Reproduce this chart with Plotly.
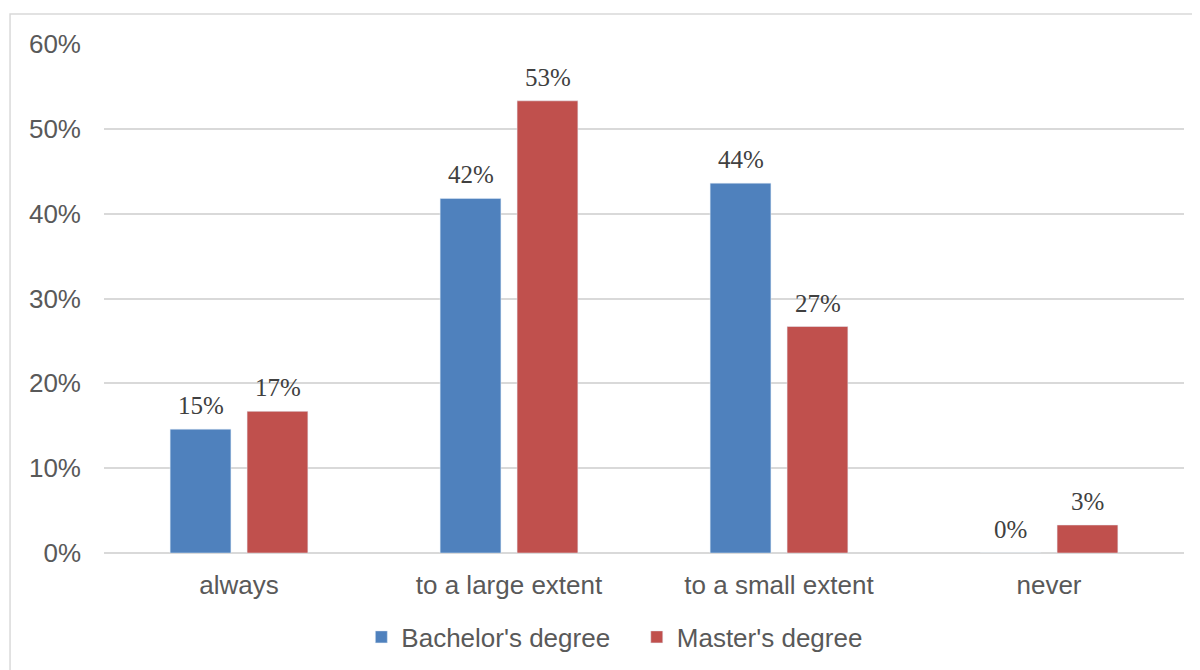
import plotly.graph_objects as go

categories = ["always", "to a large extent", "to a small extent", "never"]
bachelor = [0.146, 0.418, 0.436, 0.0]
master = [0.167, 0.533, 0.267, 0.033]
series_names = ["Bachelor's degree\u00a0\u00a0\u00a0", "Master's degree"]
colors = ["#4f81bd", "#c0504d"]
label_shift = [-38.5, 38.5]

fig = go.Figure()
annotations = []
for name, vals, col, dx in zip(series_names, [bachelor, master], colors, label_shift):
    fig.add_trace(go.Bar(x=categories, y=vals, name=name, marker_color=col))
    for c, v in zip(categories, vals):
        annotations.append(dict(
            x=c, y=v, xref="x", yref="y", text=f"{round(v * 100):.0f}%", showarrow=False,
            xshift=dx, yshift=8, yanchor="bottom", xanchor="center",
            font=dict(family="Liberation Serif, DejaVu Serif, serif", size=25, color="#404040"),
        ))

fig.update_layout(
    width=1200, height=670,
    margin=dict(l=96, r=24, t=36, b=125, autoexpand=False),
    paper_bgcolor="white", plot_bgcolor="white",
    barmode="group", bargap=0.43, bargroupgap=0.21,
    font=dict(family="Liberation Sans, Arial, sans-serif", size=26, color="#595959"),
    yaxis=dict(range=[0, 0.6], dtick=0.1, tickformat=".0%", showgrid=True, automargin=False,
               gridcolor="#d9d9d9", gridwidth=1.5, zeroline=True, zerolinecolor="#d9d9d9",
               zerolinewidth=2, ticks="", showline=False, ticklabelstandoff=22),
    xaxis=dict(showgrid=False, ticks="", showline=False, automargin=False, ticklabelstandoff=14),
    legend=dict(orientation="h", x=0.473, xanchor="center", y=-0.165, yanchor="middle",
                font=dict(size=26, color="#595959"), itemwidth=30, traceorder="normal"),
    showlegend=True,
    annotations=annotations,
    shapes=[dict(type="rect", xref="paper", yref="paper", x0=-0.087, x1=1.05, y0=-0.35, y1=1.059,
                 line=dict(color="#d9d9d9", width=1.5), fillcolor="rgba(0,0,0,0)", layer="below")],
)

fig.write_html("out.html")
